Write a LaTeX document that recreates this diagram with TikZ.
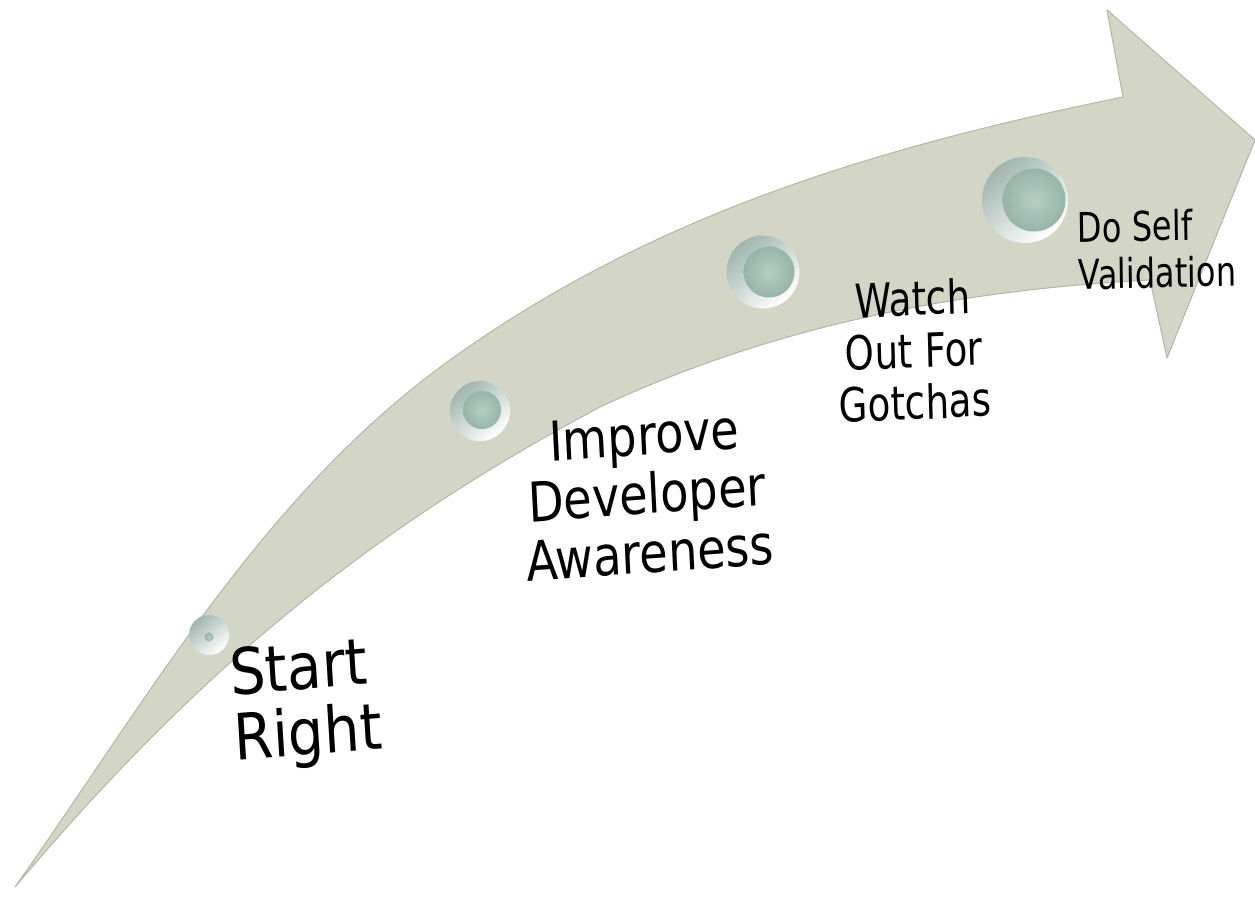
\documentclass[tikz,border=0pt]{standalone}
\usepackage{fontspec}
\setmainfont{DejaVu Sans}
\usetikzlibrary{positioning}

\definecolor{arrowgray}{HTML}{D3D6C5}
\definecolor{edgegray}{HTML}{B3B6A6}
\definecolor{ringdark}{HTML}{7F9D92}
\definecolor{capteal}{HTML}{A9C6BB}
\definecolor{capdeep}{HTML}{93B3A7}

\begin{document}
\begin{tikzpicture}[
  x=1pt,y=-1pt,
  body/.style={fill=arrowgray,draw=edgegray,line width=1pt,line join=round},
  ring/.style={circle,inner sep=0pt,shading=axis,top color=ringdark!75!white,bottom color=white,shading angle=40},
  knob/.style={circle,inner sep=0pt,inner color=capteal!85!white,outer color=capdeep!90!capteal},
  lbl/.style={align=center,inner sep=0pt,text=black}
]
\useasboundingbox (0,0) rectangle (1255,901);

% curved arrow
\coordinate (tail) at (15,887);
\coordinate (mid) at (450,360);
\coordinate (neck) at (1123,97);
\coordinate (notch) at (1150,280);
\coordinate (belly) at (600,407);
\path[body] (tail) .. controls (148,699) and (263,494) .. (mid)
  .. controls (653,214) and (878,147) .. (neck)
  -- (1107,10) -- (1255,140) -- (1167,358) -- (notch)
  .. controls (960,290) and (775,325) .. (belly)
  .. controls (375,527) and (203,664) .. (tail) -- cycle;

% buttons
\node[ring,minimum size=40pt] (b1) at (209,635) {};
\node[knob,minimum size=9pt] (c1) at (209,637) {};
\node[ring,minimum size=60pt] (b2) at (480,411) {};
\node[knob,minimum size=38pt] (c2) at (482,410) {};
\node[ring,minimum size=73pt] (b3) at (763,272) {};
\node[knob,minimum size=51pt] (c3) at (769,272) {};
\node[ring,minimum size=86pt] (b4) at (1025,200) {};
\node[knob,minimum size=63pt] (c4) at (1034,200) {};

% labels
\node[lbl,align=left,font=\fontsize{64}{66}\selectfont,xscale=0.88,rotate=4] (lStart) at (306,705) {Start\\Right};
\node[lbl,font=\fontsize{55}{59}\selectfont,xscale=0.84,rotate=3.4] (lImprove) at (647,494) {Improve\\Developer\\Awareness};
\node[lbl,font=\fontsize{47}{52}\selectfont,xscale=0.79,rotate=2] (lWatch) at (914,350) {Watch\\Out For\\Gotchas};
\node[lbl,align=left,font=\fontsize{41}{47}\selectfont,xscale=0.78,rotate=1] (lSelf) at (1157,249) {Do Self\\Validation};
\end{tikzpicture}
\end{document}
